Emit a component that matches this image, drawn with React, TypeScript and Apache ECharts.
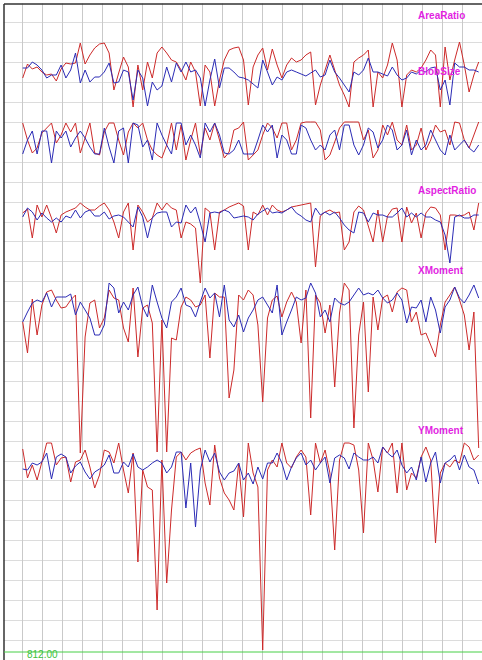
import React, { useEffect, useRef } from "react";
import * as echarts from "echarts";

const frames = Array.from({ length: 96 }, (_, i) => String(i + 1));

const areaRatioRed = [
  32, 46, 41, 43, 38, 35, 36, 29, 41, 47,
  46, 47, 67, 46, 55, 62, 66, 67, 57, 20,
  37, 53, 43, 3, 45, 20, 48, 32, 57, 63,
  57, 50, 48, 40, 30, 48, 38, 4, 45, 38,
  4, 30, 50, 60, 62, 63, 50, 5, 43, 55,
  62, 40, 61, 45, 32, 45, 52, 48, 50, 55,
  58, 5, 25, 40, 55, 40, 25, 15, 3, 48,
  52, 55, 60, 3, 38, 32, 45, 67, 50, 3,
  35, 40, 38, 42, 50, 60, 55, 3, 63, 30,
  50, 68, 45, 18, 35, 48,
];
const areaRatioBlue = [
  42, 42, 48, 45, 40, 32, 35, 35, 45, 32,
  40, 57, 27, 40, 28, 33, 33, 38, 47, 27,
  28, 40, 38, 10, 40, 32, 4, 28, 20, 24,
  43, 28, 47, 38, 48, 38, 40, 32, 4, 30,
  51, 22, 42, 42, 38, 33, 32, 30, 26, 22,
  50, 38, 25, 33, 30, 38, 40, 38, 36, 34,
  37, 40, 33, 35, 50, 38, 32, 25, 18, 38,
  35, 40, 52, 38, 38, 36, 34, 43, 35, 30,
  32, 38, 36, 40, 38, 42, 43, 20, 30, 5,
  47, 43, 43, 40, 40, 38,
];
const blobSizeRed = [
  45, 28, 15, 20, 35, 40, 45, 25, 33, 45,
  36, 45, 15, 30, 45, 15, 13, 36, 45, 45,
  28, 13, 36, 45, 40, 45, 28, 18, 13, 10,
  23, 45, 18, 43, 8, 28, 45, 13, 40, 28,
  45, 28, 10, 16, 38, 40, 46, 8, 13, 18,
  33, 45, 40, 30, 45, 45, 18, 28, 45, 46,
  46, 46, 38, 8, 13, 26, 40, 46, 46, 46,
  46, 28, 38, 10, 18, 43, 33, 46, 28, 23,
  43, 18, 23, 40, 18, 28, 43, 36, 38, 23,
  46, 45, 28, 20, 33, 46,
];
const blobSizeBlue = [
  14, 28, 37, 14, 37, 37, 5, 37, 30, 37,
  21, 30, 37, 30, 21, 14, 14, 40, 21, 5,
  37, 40, 5, 45, 43, 21, 28, 8, 45, 33,
  23, 14, 45, 45, 23, 33, 23, 10, 45, 36,
  45, 33, 15, 14, 18, 28, 14, 14, 14, 28,
  43, 36, 43, 10, 33, 28, 14, 14, 43, 40,
  28, 18, 23, 18, 33, 38, 18, 43, 43, 23,
  13, 23, 40, 36, 20, 28, 43, 38, 18, 23,
  38, 13, 28, 18, 23, 38, 28, 18, 13, 33,
  18, 23, 28, 20, 16, 23,
];
const aspectRatioRed = [
  77, 81, 52, 85, 73, 85, 72, 57, 75, 78,
  80, 82, 87, 83, 80, 80, 84, 87, 80, 68,
  52, 78, 87, 40, 85, 78, 68, 72, 87, 80,
  87, 82, 80, 52, 68, 66, 62, 7, 82, 78,
  40, 78, 80, 83, 85, 87, 84, 40, 78, 75,
  85, 75, 85, 80, 78, 80, 83, 84, 85, 86,
  87, 23, 74, 78, 80, 77, 78, 40, 48, 78,
  84, 80, 64, 48, 80, 48, 74, 81, 82, 48,
  83, 67, 77, 52, 77, 83, 82, 75, 40, 75,
  75, 74, 75, 78, 60, 87,
];
const aspectRatioBlue = [
  73, 82, 78, 70, 77, 72, 68, 72, 68, 74,
  72, 80, 72, 78, 80, 74, 74, 78, 71, 74,
  75, 73, 68, 63, 83, 73, 52, 72, 77, 78,
  78, 63, 68, 67, 85, 77, 83, 67, 48, 77,
  78, 77, 80, 78, 72, 73, 74, 73, 70, 76,
  79, 82, 77, 78, 77, 80, 83, 77, 74, 70,
  68, 82, 75, 78, 75, 78, 72, 65, 60, 57,
  78, 77, 68, 77, 75, 75, 73, 73, 77, 82,
  73, 77, 73, 77, 73, 73, 70, 68, 55, 27,
  73, 75, 72, 72, 75, 75,
];
const xMomentRed = [
  133, 102, 156, 120, 150, 163, 165, 155, 147, 148,
  155, 160, 2, 118, 152, 155, 127, 137, 165, 157,
  155, 127, 113, 167, 98, 147, 150, 132, 3, 135,
  3, 117, 115, 148, 158, 155, 148, 150, 160, 97,
  162, 158, 158, 57, 85, 160, 155, 165, 160, 130,
  53, 137, 155, 159, 138, 153, 163, 153, 112, 165,
  37, 160, 152, 122, 150, 68, 142, 172, 165, 27,
  120, 153, 63, 158, 125, 157, 160, 143, 163, 167,
  165, 133, 143, 120, 122, 110, 98, 130, 153, 160,
  168, 155, 140, 105, 143, 7,
];
const xMomentBlue = [
  133, 143, 152, 155, 153, 162, 148, 158, 158, 158,
  161, 140, 153, 145, 137, 120, 120, 130, 172, 167,
  142, 153, 145, 160, 168, 148, 138, 170, 153, 137,
  127, 153, 158, 167, 150, 148, 138, 153, 167, 157,
  162, 138, 170, 135, 128, 140, 123, 137, 145, 155,
  158, 150, 142, 170, 120, 133, 145, 158, 155, 157,
  172, 162, 138, 145, 133, 157, 152, 150, 153, 160,
  167, 160, 162, 160, 165, 157, 152, 155, 162, 155,
  132, 148, 147, 155, 133, 158, 145, 122, 148, 155,
  168, 157, 152, 160, 170, 157,
];
const yMomentRed = [
  203, 174, 187, 172, 190, 209, 209, 187, 194, 195,
  170, 190, 192, 202, 185, 164, 177, 202, 200, 189,
  209, 182, 159, 199, 90, 182, 165, 162, 42, 192,
  69, 142, 195, 200, 192, 199, 202, 204, 169, 147,
  207, 174, 159, 152, 142, 189, 135, 209, 179, 165,
  2, 182, 192, 185, 209, 189, 184, 195, 202, 195,
  137, 209, 189, 202, 179, 102, 192, 209, 209, 207,
  182, 119, 209, 192, 160, 205, 199, 209, 159, 209,
  162, 179, 174, 195, 205, 192, 109, 179, 189, 185,
  192, 189, 209, 205, 192, 197,
];
const yMomentBlue = [
  183, 182, 189, 187, 190, 199, 173, 195, 198, 195,
  179, 186, 190, 180, 173, 180, 183, 187, 197, 179,
  179, 190, 185, 198, 185, 182, 185, 189, 192, 189,
  179, 185, 200, 200, 144, 189, 125, 182, 202, 190,
  199, 180, 172, 179, 181, 189, 172, 179, 168, 185,
  173, 189, 189, 199, 189, 172, 185, 194, 199, 187,
  192, 182, 189, 195, 169, 194, 197, 194, 183, 199,
  195, 192, 192, 195, 189, 205, 199, 195, 202, 187,
  179, 185, 172, 195, 170, 189, 200, 169, 189, 192,
  197, 182, 197, 185, 182, 168,
];

const panelNames = ["AreaRatio", "BlobSize", "AspectRatio", "XMoment", "YMoment"];
const bottomValue = "812.00";

const RED = "#cc2a2a";
const BLUE = "#2b2bb5";
const MAGENTA = "#e21fe2";

export default function App() {
  const ref = useRef<HTMLDivElement>(null);

  useEffect(() => {
    if (!ref.current) return;
    const chart = echarts.init(ref.current, undefined, { renderer: "svg" });

    const panels = [
      { name: panelNames[0], top: 38, height: 72, labelY: 15, red: areaRatioRed, blue: areaRatioBlue },
      { name: panelNames[1], top: 118, height: 50, labelY: 71, red: blobSizeRed, blue: blobSizeBlue },
      { name: panelNames[2], top: 198, height: 92, labelY: 190, red: aspectRatioRed, blue: aspectRatioBlue },
      { name: panelNames[3], top: 280, height: 175, labelY: 270, red: xMomentRed, blue: xMomentBlue },
      { name: panelNames[4], top: 440, height: 212, labelY: 430, red: yMomentRed, blue: yMomentBlue },
    ];

    const grids: any[] = [{ left: 2.7, top: 2.7, width: 480, height: 660 }];
    const xAxes: any[] = [
      {
        type: "value", gridIndex: 0, min: 0, max: 480, interval: 20,
        axisLine: { show: false }, axisTick: { show: false }, axisLabel: { show: false },
        splitLine: { show: true, lineStyle: { color: "#c9c9c9", width: 1 } },
      },
    ];
    const yAxes: any[] = [
      {
        type: "value", gridIndex: 0, min: 0, max: 660, interval: 20,
        axisLine: { show: false }, axisTick: { show: false }, axisLabel: { show: false },
        splitLine: { show: true, lineStyle: { color: "#dcdcdc", width: 1 } },
      },
    ];
    const series: any[] = [];
    const graphics: any[] = [
      { type: "rect", shape: { x: 0, y: 0, width: 482, height: 3.5 }, style: { fill: "#ffffff" }, z: 90 },
      { type: "rect", shape: { x: 0, y: 0, width: 3.5, height: 660 }, style: { fill: "#ffffff" }, z: 90 },
      { type: "line", shape: { x1: 4, y1: 4, x2: 482, y2: 4 }, style: { stroke: "#333333", lineWidth: 1.5 }, z: 91 },
      { type: "line", shape: { x1: 4, y1: 4, x2: 4, y2: 660 }, style: { stroke: "#333333", lineWidth: 1.5 }, z: 91 },
      { type: "line", shape: { x1: 4, y1: 652, x2: 482, y2: 652 }, style: { stroke: "#46cf46", lineWidth: 1 }, z: 91 },
      {
        type: "text", x: 27, y: 659.5, z: 92,
        style: { text: bottomValue, fill: "#3cbf3c", fontSize: 10, fontFamily: "Liberation Sans", textVerticalAlign: "bottom" },
      },
    ];

    panels.forEach((p, k) => {
      const gi = k + 1;
      grids.push({ left: 22.7, width: 456, top: p.top, height: p.height });
      xAxes.push({ type: "category", gridIndex: gi, data: frames, boundaryGap: false, show: false });
      yAxes.push({ type: "value", gridIndex: gi, min: 0, max: p.height, show: false, splitLine: { show: false } });
      series.push({
        type: "line", name: p.name + " A", xAxisIndex: gi, yAxisIndex: gi, data: p.red,
        symbol: "none", lineStyle: { color: RED, width: 1 }, itemStyle: { color: RED }, z: 3,
      });
      series.push({
        type: "line", name: p.name + " B", xAxisIndex: gi, yAxisIndex: gi, data: p.blue,
        symbol: "none", lineStyle: { color: BLUE, width: 1 }, itemStyle: { color: BLUE }, z: 4,
      });
      graphics.push({
        type: "text", x: 418, y: p.labelY, z: 95,
        style: {
          text: p.name, fill: MAGENTA, fontSize: 10, fontWeight: "bold",
          fontFamily: "Liberation Sans", textVerticalAlign: "middle",
        },
      });
    });

    chart.setOption({
      animation: false,
      backgroundColor: "#ffffff",
      grid: grids,
      xAxis: xAxes,
      yAxis: yAxes,
      series,
      graphic: graphics,
    });

    return () => chart.dispose();
  }, []);

  return (
    <div
      ref={ref}
      style={{ position: "fixed", left: 0, top: 0, width: 482, height: 660 }}
    />
  );
}
